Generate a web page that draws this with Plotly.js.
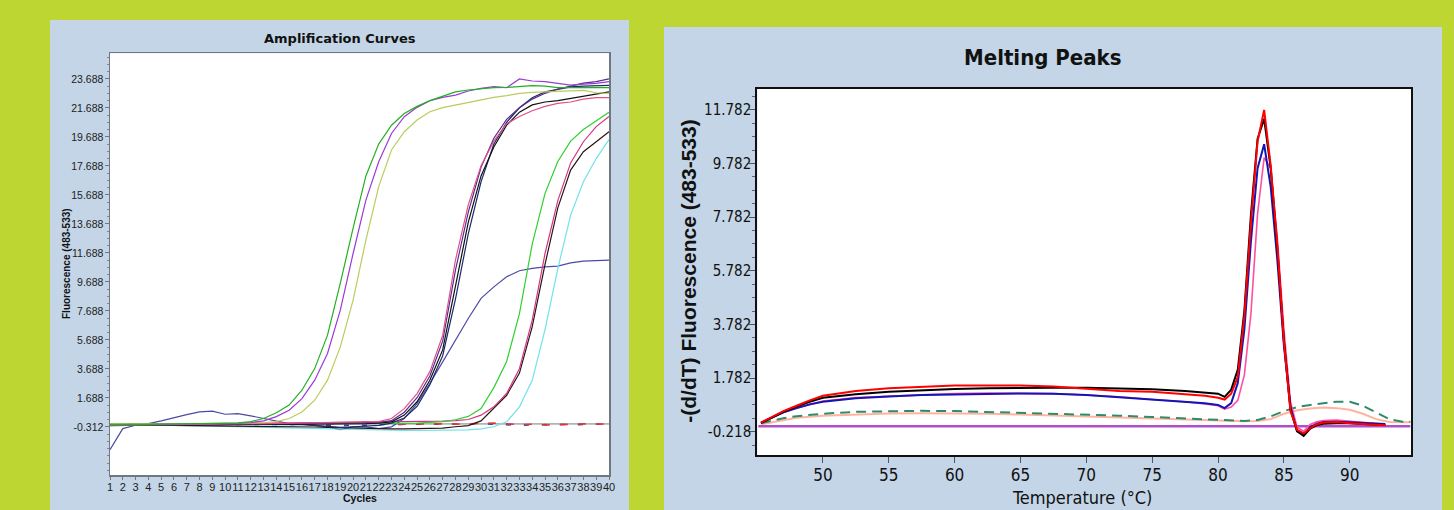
<!DOCTYPE html>
<html>
<head>
<meta charset="utf-8">
<script src="https://cdn.plot.ly/plotly-3.0.1.min.js"></script>
<style>
html,body{margin:0;padding:0;background:#bdd631;}
#chart{width:1454px;height:510px;}
</style>
</head>
<body>
<div id="chart"></div>
<script>
// ---------- Amplification curves (left) ----------
const cycles = [1,2,3,4,5,6,7,8,9,10,11,12,13,14,15,16,17,18,19,20,21,22,23,24,25,26,27,28,29,30,31,32,33,34,35,36,37,38,39,40];
const ampTicks = [-0.312,1.688,3.688,5.688,7.688,9.688,11.688,13.688,15.688,17.688,19.688,21.688,23.688];

const greenA  = [-0.15,-0.16,-0.14,-0.15,-0.13,-0.12,-0.12,-0.1,-0.08,-0.06,-0.03,0.05,0.27,0.66,1.19,2.22,3.71,6.02,9.6,13.4,17.0,19.2,20.5,21.3,21.8,22.2,22.5,22.8,22.93,23.02,23.09,23.11,23.16,23.23,23.2,23.09,23.09,23.09,23.09,23.09];
const purpleA = [-0.18,-0.17,-0.15,-0.16,-0.14,-0.13,-0.12,-0.11,-0.1,-0.08,-0.06,-0.02,0.1,0.4,0.84,1.64,2.91,4.75,7.74,11.65,15.33,17.98,19.93,21.09,21.73,22.19,22.42,22.58,22.86,23.04,23.16,23.09,23.69,23.55,23.5,23.39,23.27,23.34,23.39,23.5];
const oliveA  = [-0.12,-0.13,-0.12,-0.11,-0.12,-0.1,-0.1,-0.09,-0.08,-0.07,-0.06,-0.05,-0.02,0.05,0.27,0.72,1.53,2.91,5.21,8.43,12.58,16.26,18.79,20.05,20.86,21.43,21.71,21.89,22.05,22.24,22.42,22.54,22.7,22.77,22.79,22.81,22.84,22.9,22.74,22.7];
const pinkB   = [-0.2,-0.18,-0.17,-0.18,-0.16,-0.15,-0.14,-0.12,-0.12,-0.1,-0.1,-0.08,-0.08,-0.07,-0.06,-0.05,-0.04,-0.03,-0.02,-0.01,0.0,0.05,0.27,0.95,1.99,3.5,6.0,11.2,15.0,17.7,19.4,20.6,21.1,21.5,21.8,22.0,22.1,22.3,22.4,22.4];
const purpleB = [-0.15,-0.14,-0.15,-0.13,-0.13,-0.12,-0.11,-0.11,-0.1,-0.1,-0.09,-0.09,-0.08,-0.08,-0.07,-0.07,-0.06,-0.05,-0.05,-0.04,-0.02,0.0,0.12,0.7,1.7,3.2,5.6,10.5,14.5,17.6,19.6,20.9,21.7,22.3,22.7,23.0,23.2,23.4,23.5,23.7];
const blackB  = [-0.22,-0.2,-0.2,-0.19,-0.18,-0.18,-0.17,-0.17,-0.16,-0.16,-0.15,-0.15,-0.14,-0.14,-0.13,-0.13,-0.12,-0.12,-0.15,-0.1,-0.08,-0.05,0.04,0.5,1.42,2.91,5.0,9.4,13.8,17.0,19.0,20.5,21.4,21.9,22.1,22.2,22.35,22.5,22.65,22.8];
const navyB   = [-0.2,-0.19,-0.18,-0.18,-0.17,-0.17,-0.16,-0.16,-0.15,-0.15,-0.14,-0.14,-0.13,-0.13,-0.14,-0.15,-0.2,-0.3,-0.35,-0.3,-0.25,-0.2,-0.05,0.3,1.1,2.6,4.6,8.5,13.0,16.6,19.2,20.7,21.7,22.4,22.8,23.0,23.15,23.2,23.2,23.25];
const greenC  = [-0.1,-0.1,-0.11,-0.1,-0.12,-0.11,-0.1,-0.1,-0.09,-0.1,-0.11,-0.1,-0.1,-0.09,-0.1,-0.1,-0.11,-0.12,-0.12,-0.1,-0.1,-0.09,-0.08,-0.07,-0.05,-0.02,0.05,0.18,0.41,0.95,2.4,4.2,7.5,12.3,15.8,18.0,19.4,20.2,20.8,21.4];
const magentaC= [-0.14,-0.13,-0.12,-0.12,-0.11,-0.1,-0.1,-0.09,-0.08,-0.08,-0.07,-0.06,-0.06,-0.05,-0.05,-0.04,-0.04,-0.03,-0.02,-0.02,-0.01,0.0,0.0,0.02,0.03,0.05,0.08,0.12,0.2,0.5,1.07,1.99,3.7,7.05,11.65,15.3,17.9,19.36,20.4,21.1];
const blackC  = [-0.15,-0.16,-0.16,-0.17,-0.18,-0.18,-0.19,-0.2,-0.2,-0.21,-0.22,-0.23,-0.25,-0.28,-0.3,-0.3,-0.32,-0.35,-0.38,-0.4,-0.42,-0.45,-0.45,-0.45,-0.45,-0.44,-0.4,-0.3,-0.22,0.1,0.95,1.87,3.4,6.6,10.9,14.8,17.4,18.67,19.36,20.05];
const cyanC   = [-0.1,-0.12,-0.14,-0.16,-0.18,-0.2,-0.22,-0.24,-0.26,-0.3,-0.32,-0.36,-0.38,-0.4,-0.42,-0.45,-0.47,-0.48,-0.5,-0.5,-0.52,-0.55,-0.56,-0.56,-0.56,-0.56,-0.55,-0.55,-0.52,-0.45,-0.3,0.04,1.07,2.9,6.4,10.6,14.3,16.6,18.2,19.5];
const slateD  = [-1.88,-0.43,-0.2,-0.08,0.1,0.33,0.54,0.72,0.77,0.56,0.61,0.45,0.27,0.1,-0.08,-0.13,-0.2,-0.31,-0.5,-0.31,-0.31,-0.43,-0.31,0.27,1.3,2.68,4.17,5.67,7.17,8.55,9.35,10.04,10.46,10.62,10.73,10.78,11.0,11.12,11.15,11.19];
const negGray = [-0.1,-0.11,-0.1,-0.1,-0.12,-0.11,-0.1,-0.1,-0.11,-0.12,-0.11,-0.1,-0.1,-0.11,-0.1,-0.1,-0.11,-0.12,-0.12,-0.11,-0.1,-0.1,-0.11,-0.1,-0.12,-0.11,-0.1,-0.1,-0.11,-0.12,-0.11,-0.1,-0.1,-0.11,-0.12,-0.12,-0.11,-0.1,-0.1,-0.1];
const negRed  = [-0.12,-0.1,-0.08,-0.1,-0.12,-0.1,-0.08,-0.09,-0.1,-0.12,-0.1,-0.08,-0.1,-0.11,-0.09,-0.1,-0.12,-0.1,-0.08,-0.02,0.02,-0.05,-0.1,-0.12,-0.1,-0.08,-0.1,-0.12,-0.1,-0.08,-0.05,-0.1,-0.15,-0.13,-0.18,-0.16,-0.12,-0.1,-0.12,-0.1];
const negBlue = [-0.15,-0.14,-0.12,-0.13,-0.15,-0.14,-0.12,-0.13,-0.14,-0.15,-0.13,-0.12,-0.14,-0.15,-0.14,-0.13,-0.15,-0.2,-0.22,-0.18,-0.2,-0.15,-0.14,-0.13,-0.12,-0.14,-0.15,-0.13,-0.12,-0.1,-0.12,-0.18,-0.2,-0.18,-0.15,-0.14,-0.16,-0.14,-0.13,-0.12];

// ---------- Melting peaks (right) ----------
const meltTicks = [-0.218,1.782,3.782,5.782,7.782,9.782,11.782];
const tempTicks = [50,55,60,65,70,75,80,85,90];
const temps = [45.3,46,47,48,49,50,52.5,55,57.5,60,62.5,65,67.5,70,72.5,75,77.5,79,80,80.5,81,81.5,82,82.5,83,83.5,84,84.5,85,85.5,86,86.5,87,87.5,88,89,90,91,92,92.7];
const meltRed   = [0.12,0.3,0.55,0.75,0.95,1.12,1.3,1.4,1.44,1.5,1.5,1.5,1.47,1.38,1.3,1.27,1.17,1.12,1.05,0.98,1.2,1.83,4.1,7.6,10.6,11.78,9.7,6.75,3.15,0.55,-0.15,-0.28,-0.09,0.06,0.12,0.14,0.1,0.07,0.03,0.02];
const meltBlack = [0.1,0.28,0.52,0.72,0.9,1.05,1.18,1.27,1.33,1.37,1.4,1.42,1.42,1.42,1.4,1.36,1.3,1.25,1.2,1.08,1.35,2.1,4.3,7.9,10.7,11.45,9.6,6.6,3.2,0.6,-0.2,-0.38,-0.1,0.03,0.08,0.1,0.1,0.07,0.05,0.03];
const meltBlue  = [0.12,0.28,0.5,0.66,0.8,0.9,1.03,1.09,1.15,1.17,1.2,1.21,1.2,1.15,1.07,0.98,0.9,0.84,0.78,0.66,0.85,1.6,3.6,6.9,9.6,10.5,8.9,6.2,3.0,0.7,-0.2,-0.32,-0.05,0.08,0.14,0.15,0.13,0.1,0.08,0.07];
const meltPink  = [0.12,0.28,0.5,0.66,0.8,0.92,1.05,1.1,1.17,1.2,1.22,1.22,1.2,1.15,1.08,0.98,0.9,0.82,0.75,0.62,0.7,0.95,1.9,4.2,7.9,10.0,9.6,7.0,3.6,0.9,-0.05,-0.2,0.05,0.15,0.2,0.22,0.18,0.12,0.08,0.06];
const temps2 = [45.3,46,47,48,50,52.5,55,57.5,60,62.5,65,67.5,70,72.5,75,77.5,80,82,83,84,85,86,87,88,89,90,91,92,93,94,94.6];
const meltGreen  = [0.1,0.18,0.28,0.36,0.45,0.52,0.55,0.56,0.55,0.52,0.48,0.45,0.42,0.38,0.33,0.28,0.23,0.18,0.22,0.35,0.55,0.7,0.78,0.85,0.9,0.9,0.75,0.5,0.25,0.15,0.15];
const meltSalmon = [0.05,0.12,0.22,0.3,0.38,0.43,0.46,0.47,0.47,0.45,0.42,0.38,0.35,0.3,0.27,0.23,0.19,0.17,0.18,0.25,0.45,0.58,0.65,0.68,0.66,0.6,0.45,0.25,0.14,0.13,0.13];
const violetT = [45.1,94.6];
const meltViolet = [-0.02,-0.02];

// ---------- build ----------
const W = 1454, H = 510;
const px = v => v / W;
const py = v => 1 - v / H;

function amp(y, color, width, dash) {
  return {x: cycles, y: y, type: 'scatter', mode: 'lines', xaxis: 'x', yaxis: 'y',
    line: {color: color, width: width || 1.2, dash: dash || 'solid'}, hoverinfo: 'skip'};
}
function melt(x, y, color, width, dash) {
  return {x: x, y: y, type: 'scatter', mode: 'lines', xaxis: 'x2', yaxis: 'y2',
    line: {color: color, width: width || 2, dash: dash || 'solid'}, hoverinfo: 'skip'};
}

const traces = [
  amp(negGray, '#b4b4b4', 1.6),
  amp(negBlue, '#3344aa', 1.6, '5px,13px'),
  amp(negRed, '#d83a3a', 1.6, '8px,10px'),
  amp(slateD, '#4b4ba6'),
  amp(cyanC, '#6fe3ea'),
  amp(blackC, '#2a1414'),
  amp(magentaC, '#d4357e'),
  amp(greenC, '#2fd02f'),
  amp(navyB, '#1c2a6e'),
  amp(blackB, '#111111'),
  amp(purpleB, '#5a2a90'),
  amp(pinkB, '#e0508a'),
  amp(oliveA, '#bccb5e'),
  amp(purpleA, '#9b3bd4'),
  amp(greenA, '#22b022'),

  melt(temps2, meltSalmon, '#ffb39e', 2),
  melt(temps2, meltGreen, '#2e8b6a', 2, '10px,6px'),
  melt(violetT, meltViolet, '#b050c8', 2.5),
  melt(temps, meltPink, '#ff4fa0', 1.6),
  melt(temps, meltBlue, '#1515b5', 2),
  melt(temps, meltBlack, '#000000', 2),
  melt(temps, meltRed, '#ff0000', 2)
];

const narrow = 'Liberation Sans Narrow, DejaVu Sans Condensed, Arial Narrow, sans-serif';
const arial = 'Liberation Sans, Arial, sans-serif';

const layout = {
  width: W, height: H,
  margin: {l: 0, r: 0, t: 0, b: 0, pad: 0},
  paper_bgcolor: '#bdd631',
  plot_bgcolor: 'rgba(0,0,0,0)',
  showlegend: false,
  xaxis: {
    domain: [px(110), px(609)], range: [1, 40], anchor: 'y',
    tickmode: 'array', tickvals: cycles, ticktext: cycles.map(String), tickangle: 0,
    tickfont: {family: arial, size: 11, color: '#222'},
    ticks: 'outside', ticklen: 3, tickcolor: '#777', ticklabelstandoff: -2,
    showline: true, linecolor: '#6f7882', linewidth: 1.5, mirror: true,
    showgrid: false, zeroline: false
  },
  yaxis: {
    domain: [py(475), py(53.3)], range: [-3.63, 25.46], anchor: 'x',
    tickmode: 'array', tickvals: ampTicks, ticktext: ampTicks.map(v => v.toFixed(3)),
    tickfont: {family: arial, size: 10.5, color: '#222'},
    ticks: 'outside', ticklen: 4, tickcolor: '#777', ticklabelstandoff: -1,
    minor: {tick0: -0.312, dtick: 0.5, ticks: 'outside', ticklen: 2, tickcolor: '#888'},
    showline: true, linecolor: '#6f7882', linewidth: 1.5, mirror: true,
    showgrid: false, zeroline: false
  },
  xaxis2: {
    domain: [px(757.3), px(1411)], range: [45.02, 94.65], anchor: 'y2',
    tickmode: 'array', tickvals: tempTicks, ticktext: tempTicks.map(String), tickangle: 0,
    tickfont: {family: narrow, size: 17, color: '#111'},
    ticks: 'outside', ticklen: 6, tickcolor: '#555', ticklabelstandoff: -2,
    showline: true, linecolor: '#111', linewidth: 2, mirror: true,
    showgrid: false, zeroline: false
  },
  yaxis2: {
    domain: [py(455), py(88.5)], range: [-1.088, 12.58], anchor: 'x2',
    tickmode: 'array', tickvals: meltTicks, ticktext: meltTicks.map(v => v.toFixed(3)),
    tickfont: {family: narrow, size: 15, color: '#111'},
    ticks: 'outside', ticklen: 6, tickcolor: '#555', ticklabelstandoff: -5,
    minor: {tick0: -0.218, dtick: 0.5, ticks: 'outside', ticklen: 3, tickcolor: '#666'},
    showline: true, linecolor: '#111', linewidth: 2, mirror: true,
    showgrid: false, zeroline: false
  },
  shapes: [
    {type: 'rect', xref: 'paper', yref: 'paper', x0: px(50), x1: px(629), y0: 0, y1: py(20),
     fillcolor: '#c3d5e6', line: {width: 0}, layer: 'below'},
    {type: 'rect', xref: 'paper', yref: 'paper', x0: px(664), x1: px(1442), y0: 0, y1: py(27),
     fillcolor: '#c3d5e6', line: {width: 0}, layer: 'below'},
    {type: 'rect', xref: 'paper', yref: 'paper', x0: px(110), x1: px(609), y0: py(475), y1: py(53.3),
     fillcolor: '#ffffff', line: {width: 0}, layer: 'below'},
    {type: 'rect', xref: 'paper', yref: 'paper', x0: px(757.3), x1: px(1411), y0: py(455), y1: py(88.5),
     fillcolor: '#ffffff', line: {width: 0}, layer: 'below'}
  ],
  annotations: [
    {text: 'Amplification Curves', xref: 'paper', yref: 'paper', x: px(339.5), y: py(39),
     xanchor: 'center', yanchor: 'middle', showarrow: false,
     font: {family: 'DejaVu Sans, Verdana, sans-serif', size: 13, color: '#111', weight: 'bold'}},
    {text: 'Fluorescence (483-533)', xref: 'paper', yref: 'paper', x: px(66), y: py(264),
     xanchor: 'center', yanchor: 'middle', showarrow: false, textangle: -90,
     font: {family: arial, size: 10, color: '#111', weight: 'bold'}},
    {text: 'Cycles', xref: 'paper', yref: 'paper', x: px(359.5), y: py(498),
     xanchor: 'center', yanchor: 'middle', showarrow: false,
     font: {family: arial, size: 10.5, color: '#111', weight: 'bold'}},
    {text: 'Melting Peaks', xref: 'paper', yref: 'paper', x: px(1043), y: py(57),
     xanchor: 'center', yanchor: 'middle', showarrow: false,
     font: {family: narrow, size: 22, color: '#111', weight: 'bold'}},
    {text: '-(d/dT) Fluorescence (483-533)', xref: 'paper', yref: 'paper', x: px(689), y: py(271.7),
     xanchor: 'center', yanchor: 'middle', showarrow: false, textangle: -90,
     font: {family: arial, size: 21, color: '#111', weight: 'bold'}},
    {text: 'Temperature (°C)', xref: 'paper', yref: 'paper', x: px(1082), y: py(497),
     xanchor: 'center', yanchor: 'middle', showarrow: false,
     font: {family: narrow, size: 18, color: '#111'}}
  ]
};

Plotly.newPlot('chart', traces, layout, {staticPlot: true, displayModeBar: false});
</script>
</body>
</html>
